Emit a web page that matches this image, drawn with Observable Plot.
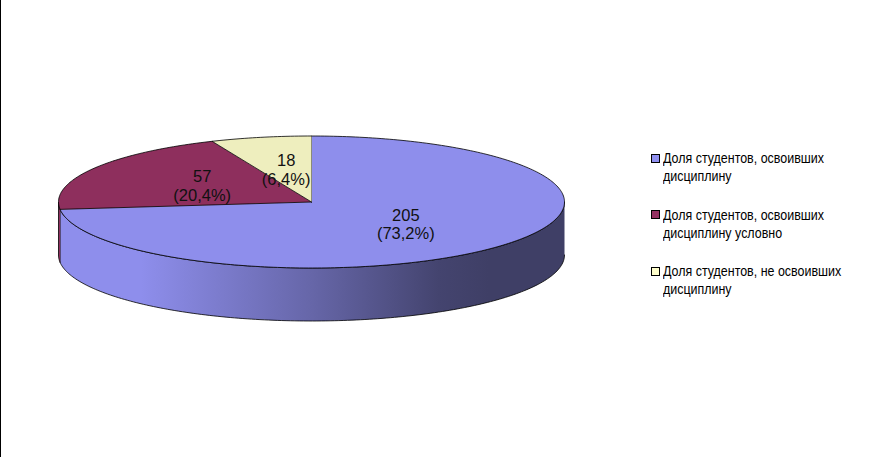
<!DOCTYPE html>
<html><head><meta charset="utf-8">
<script src="https://cdn.jsdelivr.net/npm/d3@7"></script>
<script src="https://cdn.jsdelivr.net/npm/@observablehq/plot@0.6"></script>
<style>
html,body{margin:0;padding:0;background:#fff;overflow:hidden}
#wrap{position:relative;width:870px;height:457px}
#wrap svg{position:absolute;left:0;top:0;display:block}
#edge{position:absolute;left:0;top:0;width:1px;height:457px;background:#000}
#legend{position:absolute;left:651px;top:149px;width:215px;font:15px/18px "Liberation Sans",Arial,sans-serif;color:#000}
.item{position:relative;height:36px;margin-bottom:20.5px}
.txt{position:absolute;left:12px;top:0;white-space:pre;transform:scaleX(0.83);transform-origin:left top}
.sw{position:absolute;left:0;top:4.5px;width:7px;height:7px;border:1.5px solid #000}
</style></head><body>
<div id="wrap"><div id="edge"></div><div id="legend"></div></div>
<script>
const categories = ["Доля студентов, освоивших\nдисциплину","Доля студентов, освоивших\nдисциплину условно","Доля студентов, не освоивших\nдисциплину"];
const values = [205,57,18];
const topColors = ["#8E8EEC","#8E2F5D","#EEEEBE"];
const swatchColors = ["#9090F0","#933060","#FFFFCC"];

const W=870,H=457,cx=311,cy=201.5,rx=253,ry=66,depth=53;
const total=d3.sum(values);
let cum=0;
const slices=values.map((v,i)=>{const a0=cum/total*360;cum+=v;return {i,v,a0,a1:cum/total*360,
  label:`${v}\n(${(v/total*100).toFixed(1).replace(".",",")}%)`};});
const rad=d=>d*Math.PI/180;
const pt=(deg,r=1,drop=0)=>({x:r*Math.sin(rad(deg)),y:-r*Math.cos(rad(deg))+drop});
const arc=(a0,a1,drop=0)=>{const n=Math.max(2,Math.ceil(a1-a0));return d3.range(n+1).map(k=>pt(a0+(a1-a0)*k/n,1,drop));};
const dropU=depth/ry;

function side(a0,a1){const a=Math.max(a0,90),b=Math.min(a1,270);if(b<=a)return null;
  return [...arc(a,b),...arc(a,b,dropU).reverse()];}
function wedge(s){return [{x:0,y:0},...arc(s.a0,s.a1)];}

const defs=()=>{const d=d3.create("svg:defs");
  const g=d.append("linearGradient").attr("id","sideGrad").attr("x1","0").attr("x2","1").attr("y1","0").attr("y2","0");
  [[0,"#8E8EEC"],[0.16,"#8E8EEC"],[0.5,"#6666A8"],[0.75,"#44446F"],[0.85,"#3F3F66"],[1,"#3F3F66"]]
    .forEach(([o,c])=>g.append("stop").attr("offset",o).attr("stop-color",c));
  return d.node();};

const lineStyle={x:"x",y:"y",stroke:"#000",strokeWidth:0.8,strokeLinejoin:"round"};
const marks=[defs];
slices.forEach(s=>{const p=side(s.a0,s.a1);if(p)marks.push(Plot.line(p,{...lineStyle,fill:s.i===0?"url(#sideGrad)":topColors[s.i]}));});
slices.forEach(s=>marks.push(Plot.line(wedge(s),{...lineStyle,fill:topColors[s.i]})));
marks.push(Plot.text(slices,{
  x:s=>pt((s.a0+s.a1)/2,0.5).x,y:s=>pt((s.a0+s.a1)/2,0.5).y,text:"label",
  fontSize:16.5,lineHeight:1.14,fontFamily:"Liberation Sans, Arial, sans-serif",fill:"#111"}));

const chart=Plot.plot({width:W,height:H,margin:0,axis:null,style:{background:"transparent"},
  x:{domain:[-cx/rx,(W-cx)/rx],range:[0,W]},
  y:{domain:[-cy/ry,(H-cy)/ry],range:[0,H]},
  marks});
document.getElementById("wrap").prepend(chart);

const leg=document.getElementById("legend");
categories.forEach((c,i)=>{const it=document.createElement("div");it.className="item";
  const t=document.createElement("span");t.className="txt";t.textContent=c;
  const sw=document.createElement("span");sw.className="sw";sw.style.background=swatchColors[i];it.append(sw,t);leg.append(it);});
</script></body></html>
